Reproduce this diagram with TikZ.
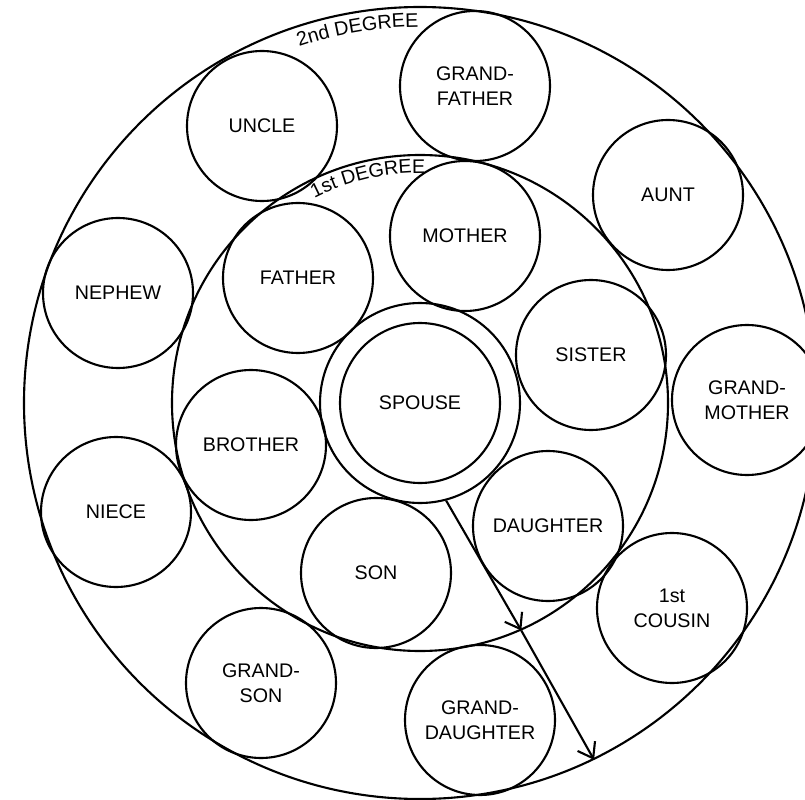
\documentclass[tikz,border=0pt]{standalone}
\usepackage{fontspec}
\setmainfont{Liberation Sans}
\usetikzlibrary{arrows.meta,decorations.text}
\begin{document}
\begin{tikzpicture}[line width=1.5pt]
	\tikzset{>={Straight Barb[length=3.5mm,width=5mm]}}
	\tikzset{kin/.style={draw, circle, minimum size=3.75cm, inner sep=0pt, align=center, font=\fontsize{14}{18}\selectfont}}
	\tikzset{ring/.style={draw, circle, inner sep=0pt}}
	\tikzset{degtext/.style={decorate, decoration={text along path, text align=center, text={|\fontsize{14}{18}\selectfont|#1}}}}
	\useasboundingbox (-10.5,-9.9) rectangle (9.625,10.075);

	\node[ring, minimum size=19.8cm] (second) at (0,0) {};
	\node[ring, minimum size=12.4cm] (first) at (0,0) {};
	\node[ring, minimum size=5cm] (self) at (0,0) {};
	\path[degtext={2nd DEGREE}] (115:9.4) arc (115:84:9.4);
	\path[degtext={1st DEGREE}] (122:5.75) arc (122:84:5.75);

	\node[kin, minimum size=4cm] (spouse) at (0,0) {SPOUSE};

	\node[kin] (mother) at (1.125,4.175) {MOTHER};
	\node[kin] (father) at (-3.05,3.125) {FATHER};
	\node[kin] (sister) at (4.275,1.2) {SISTER};
	\node[kin] (brother) at (-4.225,-1.05) {BROTHER};
	\node[kin] (daughter) at (3.2,-3.075) {DAUGHTER};
	\node[kin] (son) at (-1.1,-4.25) {SON};

	\node[kin] (grandfather) at (1.375,7.925) {GRAND-\\FATHER};
	\node[kin] (uncle) at (-3.95,6.925) {UNCLE};
	\node[kin] (aunt) at (6.2,5.2) {AUNT};
	\node[kin] (nephew) at (-7.55,2.75) {NEPHEW};
	\node[kin] (grandmother) at (8.175,0.075) {GRAND-\\MOTHER};
	\node[kin] (niece) at (-7.6,-2.725) {NIECE};
	\node[kin] (cousin) at (6.3,-5.125) {1st\\COUSIN};
	\node[kin] (grandson) at (-3.975,-7.0) {GRAND-\\SON};
	\node[kin] (granddaughter) at (1.5,-7.925) {GRAND-\\DAUGHTER};

	\draw[->] (self.-75) -- (first.-66.5);
	\draw[->] (first.-66.5) -- (second.-64.2);
\end{tikzpicture}
\end{document}
